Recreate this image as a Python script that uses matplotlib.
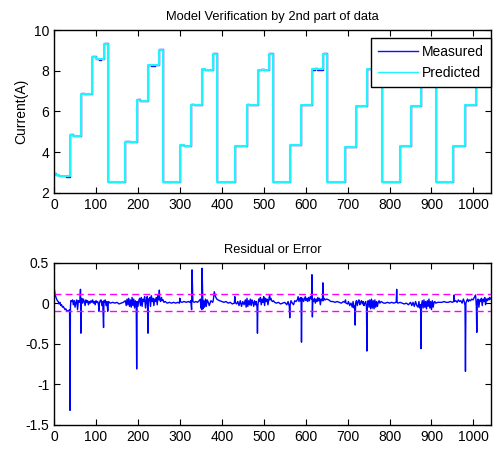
import numpy as np
import matplotlib
matplotlib.use("Agg")
import matplotlib.pyplot as plt

plt.rcParams['font.family'] = ['Liberation Sans', 'DejaVu Sans']

# step change times (sample index) and current levels
step_t = [0, 5, 12, 28, 38, 46, 64, 72, 90, 100, 106, 112, 118, 129,
          169, 180, 197, 205, 223, 230, 240, 251, 260,
          300, 310, 326, 334, 352, 360, 379, 389,
          431, 459, 466, 486, 494, 500, 513, 522,
          562, 590, 616, 622, 628, 641, 651,
          693, 719, 746, 772, 783,
          824, 850, 875, 902, 911,
          951, 981, 1006, 1032, 1040]
measured = [3.0, 2.9, 2.85, 2.8, 4.9, 4.8, 6.9, 6.85, 8.7, 8.6, 8.55, 8.6, 9.35, 2.55,
            4.55, 4.5, 6.6, 6.5, 8.3, 8.25, 8.3, 9.05, 2.55,
            4.35, 4.3, 6.35, 6.3, 8.1, 8.05, 8.85, 2.55,
            4.3, 6.35, 6.3, 8.05, 8.08, 8.05, 8.85, 2.55,
            4.35, 6.3, 8.05, 8.12, 8.05, 8.85, 2.55,
            4.25, 6.25, 8.1, 8.85, 2.55,
            4.3, 6.25, 8.1, 8.85, 2.55,
            4.3, 6.3, 8.1, 8.85, 8.85]
predicted = [2.92, 2.88, 2.85, 2.82, 4.86, 4.82, 6.88, 6.86, 8.66, 8.6, 8.58, 8.6, 9.32, 2.55,
             4.52, 4.5, 6.56, 6.52, 8.28, 8.27, 8.28, 9.02, 2.55,
             4.33, 4.31, 6.33, 6.31, 8.07, 8.06, 8.83, 2.55,
             4.3, 6.33, 6.31, 8.06, 8.06, 8.06, 8.83, 2.55,
             4.33, 6.3, 8.07, 8.08, 8.07, 8.83, 2.55,
             4.26, 6.26, 8.08, 8.83, 2.55,
             4.3, 6.26, 8.08, 8.83, 2.55,
             4.3, 6.3, 8.08, 8.83, 8.83]

# residual (measured - predicted) as (sample, value)
residual = [
    (0, 0.20), (2, 0.12), (4, 0.08), (6, 0.05), (8, 0.03), (10, 0.02), (12, -0.01),
    (14, 0.01), (16, -0.03), (18, -0.02), (20, -0.05), (22, -0.04), (24, -0.06),
    (26, -0.08), (28, -0.07), (30, -0.09), (32, -0.10), (34, -0.09), (36, -0.10),
    (37, -0.08), (38, -1.32), (39, -0.05), (40, 0.03), (42, 0.02), (44, 0.04),
    (46, -0.02), (48, 0.03), (50, -0.05), (52, 0.01), (54, 0.04), (56, -0.08),
    (57, -0.02), (58, 0.03), (60, 0.01), (62, 0.04), (63, 0.17), (64, -0.37),
    (65, 0.03), (66, 0.06), (68, 0.00), (70, 0.05), (72, 0.02), (74, -0.03),
    (76, 0.04), (78, 0.01), (80, 0.03), (82, -0.02), (84, 0.02), (86, 0.00),
    (88, 0.03), (90, 0.01), (92, 0.04), (94, 0.00), (96, 0.02), (98, -0.02),
    (100, 0.03), (102, 0.01), (104, 0.02), (106, -0.02), (107, -0.10), (108, 0.00),
    (110, 0.03), (112, 0.04), (114, -0.03), (116, 0.02), (118, -0.30), (119, 0.03),
    (120, 0.01), (122, 0.04), (124, -0.03), (126, 0.02), (128, -0.10), (129, -0.03),
    (130, 0.02), (132, 0.01), (134, 0.00), (140, 0.01), (145, 0.00), (150, 0.01),
    (155, -0.01), (160, 0.00), (165, 0.01), (170, 0.03), (172, -0.03), (174, 0.05),
    (176, -0.02), (178, 0.06), (180, -0.04), (182, 0.04), (184, -0.05), (186, 0.07),
    (188, -0.03), (190, 0.05), (192, -0.06), (194, 0.03), (196, -0.05), (197, -0.81),
    (198, 0.02), (200, -0.04), (202, 0.03), (204, 0.06), (206, -0.03), (208, 0.07),
    (210, -0.04), (212, 0.05), (214, 0.02), (216, 0.08), (218, -0.06), (220, 0.04),
    (222, 0.08), (223, -0.08), (224, -0.37), (225, 0.05), (226, 0.03), (228, 0.07),
    (230, -0.04), (232, 0.09), (234, 0.02), (236, 0.06), (238, -0.03), (240, 0.05),
    (242, 0.02), (244, 0.07), (246, -0.02), (248, 0.10), (250, 0.04), (251, 0.16),
    (252, 0.05), (254, 0.02), (256, 0.07), (258, 0.03), (260, 0.04), (262, 0.01),
    (265, 0.02), (270, 0.00), (275, 0.01), (280, 0.00), (285, 0.01), (290, 0.00),
    (295, 0.01), (299, 0.00), (300, 0.06), (301, 0.02), (305, 0.01), (310, 0.02),
    (315, 0.01), (320, 0.02), (324, 0.01), (326, 0.03), (327, -0.03), (328, -0.08),
    (329, 0.41), (331, 0.02), (334, 0.01), (338, 0.02), (342, 0.01), (346, 0.03),
    (349, 0.05), (350, -0.06), (351, 0.02), (352, -0.08), (353, 0.43), (355, -0.07),
    (357, 0.03), (359, -0.05), (361, 0.05), (363, -0.04), (365, 0.04), (367, 0.02),
    (370, -0.03), (374, 0.03), (378, 0.01), (379, 0.02), (380, 0.05), (382, 0.14),
    (385, 0.08), (388, 0.05), (391, 0.04), (395, 0.03), (400, 0.02), (405, 0.01),
    (410, 0.02), (415, 0.00), (420, 0.01), (425, -0.01), (430, 0.00), (431, 0.08),
    (432, 0.01), (435, -0.01), (438, 0.02), (441, -0.03), (444, 0.03), (447, -0.04),
    (450, 0.02), (453, -0.02), (456, 0.04), (458, -0.05), (460, 0.06), (462, -0.04),
    (464, 0.03), (466, -0.02), (468, 0.05), (470, -0.03), (472, 0.04), (474, 0.01),
    (476, -0.04), (478, 0.03), (480, -0.02), (482, 0.02), (484, -0.05), (485, -0.37),
    (486, -0.03), (488, 0.05), (490, 0.02), (492, 0.07), (494, -0.02), (496, 0.05),
    (498, 0.01), (500, 0.08), (502, -0.03), (504, 0.06), (506, 0.02), (508, 0.05),
    (510, -0.02), (512, 0.04), (514, 0.10), (515, 0.04), (517, 0.06), (519, 0.03),
    (521, 0.02), (523, 0.03), (526, 0.01), (530, 0.00), (535, 0.01), (540, -0.01),
    (545, 0.00), (550, 0.01), (555, -0.02), (558, 0.02), (561, -0.04), (562, -0.18),
    (563, -0.02), (565, 0.03), (568, 0.00), (571, -0.02), (574, 0.03), (577, 0.02),
    (580, 0.04), (582, 0.08), (584, 0.02), (586, 0.06), (588, 0.03), (589, 0.07),
    (590, -0.48), (591, 0.03), (593, 0.06), (595, 0.02), (597, 0.05), (599, 0.08),
    (601, 0.03), (603, 0.06), (605, 0.02), (607, 0.07), (609, 0.03), (611, 0.08),
    (614, 0.05), (615, 0.35), (616, -0.17), (617, 0.05), (619, 0.02), (621, 0.06),
    (623, 0.00), (625, 0.05), (627, 0.02), (629, 0.07), (631, 0.03), (633, 0.06),
    (635, -0.02), (637, 0.05), (639, 0.04), (640, 0.03), (641, 0.25), (642, 0.03),
    (644, 0.06), (646, 0.04), (650, 0.05), (655, 0.04), (660, 0.02), (665, 0.02),
    (670, 0.01), (675, 0.02), (680, 0.01), (685, 0.00), (690, 0.02), (693, 0.01),
    (695, 0.04), (696, 0.00), (700, -0.01), (702, 0.02), (705, -0.03), (708, 0.00),
    (711, -0.05), (713, 0.02), (715, -0.06), (717, -0.03), (718, -0.27), (719, 0.00),
    (721, 0.03), (723, -0.03), (725, 0.02), (727, 0.04), (729, -0.02), (731, 0.01),
    (733, 0.03), (735, -0.01), (737, 0.02), (739, -0.03), (741, 0.00), (743, 0.02),
    (745, -0.05), (746, -0.59), (747, -0.02), (749, 0.03), (751, -0.05), (753, 0.04),
    (755, -0.07), (757, 0.05), (759, -0.06), (761, 0.03), (763, -0.07), (765, 0.04),
    (767, -0.05), (769, 0.02), (771, -0.04), (773, 0.01), (775, 0.03), (777, 0.00),
    (780, 0.02), (783, 0.01), (786, 0.00), (790, 0.00), (795, 0.01), (800, 0.00),
    (805, 0.01), (810, 0.00), (815, 0.01), (816, 0.02), (817, 0.17), (818, 0.01),
    (820, 0.00), (825, 0.01), (830, 0.00), (835, -0.01), (840, 0.00), (845, -0.02),
    (850, 0.01), (853, -0.03), (856, 0.01), (859, -0.04), (862, 0.02), (865, -0.03),
    (868, -0.05), (870, 0.02), (872, -0.06), (874, -0.02), (875, -0.56), (876, -0.03),
    (878, 0.03), (880, -0.06), (882, 0.04), (884, -0.05), (886, 0.02), (888, -0.07),
    (890, 0.03), (892, -0.04), (894, 0.05), (896, -0.06), (898, 0.02), (900, -0.08),
    (902, 0.03), (904, -0.05), (906, 0.01), (908, 0.02), (910, 0.00), (915, 0.01),
    (920, 0.01), (925, 0.01), (930, 0.02), (935, 0.01), (940, 0.01), (945, 0.02),
    (950, 0.01), (953, 0.02), (954, 0.10), (955, 0.02), (958, 0.03), (961, 0.01),
    (964, 0.04), (967, 0.02), (970, 0.03), (973, 0.00), (976, 0.05), (978, 0.02),
    (980, -0.03), (981, -0.84), (982, 0.00), (984, 0.03), (986, 0.05), (988, 0.02),
    (990, 0.04), (993, 0.03), (996, 0.05), (999, 0.04), (1002, 0.07), (1004, 0.09),
    (1005, 0.10), (1006, 0.04), (1007, -0.04), (1008, -0.36), (1009, 0.02),
    (1011, 0.05), (1013, -0.05), (1015, 0.04), (1017, 0.02), (1019, 0.06),
    (1021, -0.03), (1023, 0.05), (1025, 0.02), (1027, 0.07), (1029, -0.02),
    (1031, 0.05), (1033, 0.03), (1035, 0.06), (1037, 0.04), (1039, 0.07), (1040, 0.05),
]
res_t = [p[0] for p in residual]
res_v = [p[1] for p in residual]
res_band = [0.11, -0.1]

x_ticks = np.arange(0, 1001, 100)

fig = plt.figure(figsize=(4.96, 4.55), dpi=100)
ax1 = fig.add_axes([0.109, 0.576, 0.881, 0.358])
ax2 = fig.add_axes([0.109, 0.066, 0.881, 0.357])

ax1.step(step_t, measured, where='post', color='#1010ff', lw=1.0, label='Measured')
ax1.step(step_t, predicted, where='post', color='#20f4fa', lw=1.5, label='Predicted')
ax1.set_xlim(0, 1042)
ax1.set_ylim(2, 10)
ax1.set_yticks([2, 4, 6, 8, 10])
ax1.set_xticks(x_ticks)
ax1.set_ylabel('Current(A)', fontsize=10)
ax1.set_title('Model Verification by 2nd part of data', fontsize=9.3, pad=7)
leg = ax1.legend(loc='upper right', bbox_to_anchor=(1.0, 0.953), borderaxespad=0,
                 fancybox=False, edgecolor='black', framealpha=1, fontsize=10,
                 handlelength=2.9, handletextpad=0.3, borderpad=0.5, labelspacing=0.5)
leg.get_frame().set_linewidth(1.0)
for ln in leg.get_lines():
    ln.set_linewidth(1.0)

ax2.plot(res_t, res_v, color='#0000ff', lw=1.0)
for b in res_band:
    ax2.axhline(b, color='#ff00ff', ls=(0, (5, 3)), lw=1.0)
ax2.set_xlim(0, 1042)
ax2.set_ylim(-1.5, 0.5)
ax2.set_yticks([-1.5, -1, -0.5, 0, 0.5])
ax2.set_yticklabels(['-1.5', '-1', '-0.5', '0', '0.5'])
ax2.set_xticks(x_ticks)
ax2.set_title('Residual or Error', fontsize=9.3, pad=7)

for ax in (ax1, ax2):
    ax.tick_params(direction='in', top=True, right=True, labelsize=10, length=4, width=0.8)
    for s in ax.spines.values():
        s.set_linewidth(1.0)

fig.savefig('out.png', dpi=100)
